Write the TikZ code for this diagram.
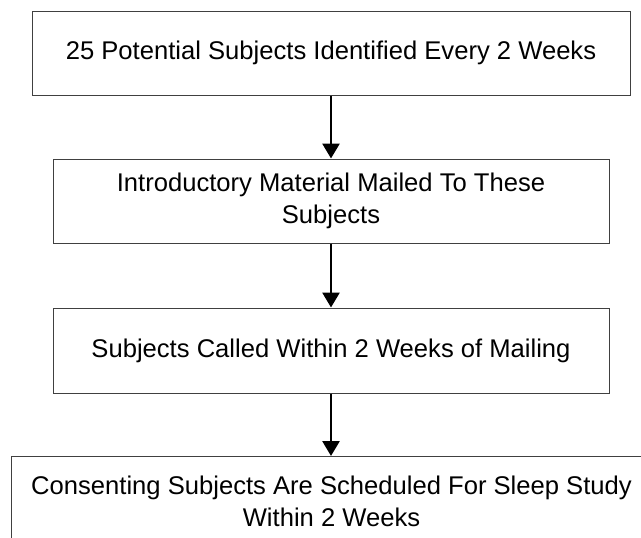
\documentclass[tikz,border=0pt]{standalone}
\usepackage{fontspec}
\setmainfont{Liberation Sans}
\usetikzlibrary{arrows.meta,positioning}

\begin{document}
\begin{tikzpicture}[
    x=1pt, y=-1pt,
    step_box/.style={draw=black!75, line width=1pt, rectangle, align=center,
        font=\fontsize{25.6}{32}\selectfont, inner sep=0pt},
    flow_arrow/.style={draw, black, line width=2.8pt, -{Triangle[width=17pt,length=15pt]}}
]

% Frame of the picture
\useasboundingbox (0,0) rectangle (641,538);
\clip (0,0) rectangle (641,538);

% Steps
\node[step_box, minimum width=598pt, minimum height=84pt] (identified) at (331,53)
    {25 Potential Subjects Identified Every 2 Weeks};
\node[step_box, minimum width=556pt, minimum height=84pt] (mailed) at (331,201)
    {Introductory Material Mailed To These\\Subjects};
\node[step_box, minimum width=556pt, minimum height=85pt] (called) at (331,350.5)
    {Subjects Called Within 2 Weeks of Mailing};
\node[step_box, anchor=north west, minimum width=640pt, minimum height=90pt] (scheduled) at (11,456)
    {Consenting Subjects Are Scheduled For Sleep Study\\Within 2 Weeks};

% Connections
\draw[flow_arrow] (identified) -- (mailed);
\draw[flow_arrow] (mailed) -- (called);
\draw[flow_arrow] (called.south) -- (called.south |- scheduled.north);

\end{tikzpicture}
\end{document}
